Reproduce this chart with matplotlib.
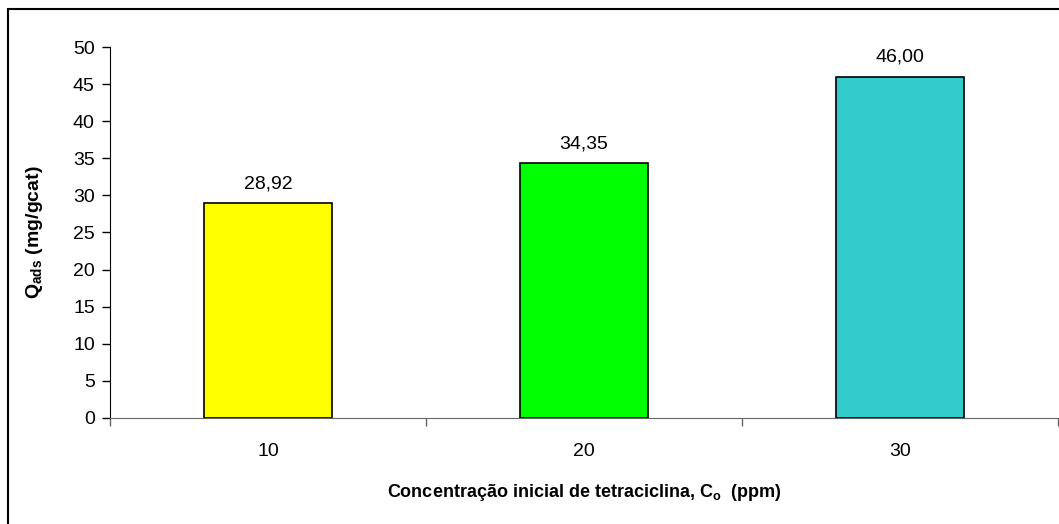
#!/usr/bin/env python3
# -*- coding: utf-8 -*-

import matplotlib
matplotlib.use("Agg")
import matplotlib.pyplot as plt
from matplotlib.patches import Rectangle

concentrations = ["10", "20", "30"]
q_ads = [28.92, 34.35, 46.00]
bar_colors = ["#FFFF00", "#00FF00", "#33CCCC"]
y_ticks = [0, 5, 10, 15, 20, 25, 30, 35, 40, 45, 50]

plt.rcParams["font.family"] = ["Liberation Sans", "DejaVu Sans"]
plt.rcParams["mathtext.fontset"] = "custom"
plt.rcParams["mathtext.rm"] = "Liberation Sans"
plt.rcParams["mathtext.bf"] = "Liberation Sans:bold"

fig = plt.figure(figsize=(10.59, 5.24), dpi=100)
ax = fig.add_axes([0.1039, 0.2023, 0.895, 0.708])

x = range(len(concentrations))
bars = ax.bar(x, q_ads, width=0.405, color=bar_colors,
              edgecolor="black", linewidth=1.2, zorder=3)

for b, v in zip(bars, q_ads):
    ax.annotate(f"{v:.2f}".replace(".", ","),
                (b.get_x() + b.get_width() / 2, v),
                xytext=(0, 8), textcoords="offset points",
                ha="center", va="bottom", fontsize=14)

ax.set_xlim(-0.5, 2.5)
ax.set_ylim(0, 50)
ax.set_yticks(y_ticks)
ax.tick_params(axis="y", labelsize=14, length=6, width=1, pad=5)

# category labels centred, tick marks between categories
ax.set_xticks([0, 1, 2])
ax.set_xticklabels(concentrations, fontsize=14)
ax.tick_params(axis="x", which="major", length=0, pad=18)
ax.set_xticks([-0.5, 0.5, 1.5, 2.5], minor=True)
ax.tick_params(axis="x", which="minor", length=6, width=1, color="#666666")

ax.spines["top"].set_visible(False)
ax.spines["right"].set_visible(False)
ax.spines["bottom"].set_color("#666666")
ax.spines["left"].set_color("black")

ax.set_ylabel(r"$\mathbf{Q}_{\mathbf{ads}}$ (mg/gcat)", fontsize=14,
              fontweight="bold", labelpad=20)
ax.set_xlabel(r"Concentração inicial de tetraciclina, $\mathbf{C}_{\mathbf{o}}$  (ppm)",
              fontsize=13, fontweight="bold", labelpad=16)

# outer frame of the chart area
fig.patches.append(Rectangle((8 / 1059, -0.05), 1.1, 1 - 9 / 524 + 0.05,
                             transform=fig.transFigure, fill=False,
                             edgecolor="black", linewidth=1.5))

fig.savefig("out.png", dpi=100)
